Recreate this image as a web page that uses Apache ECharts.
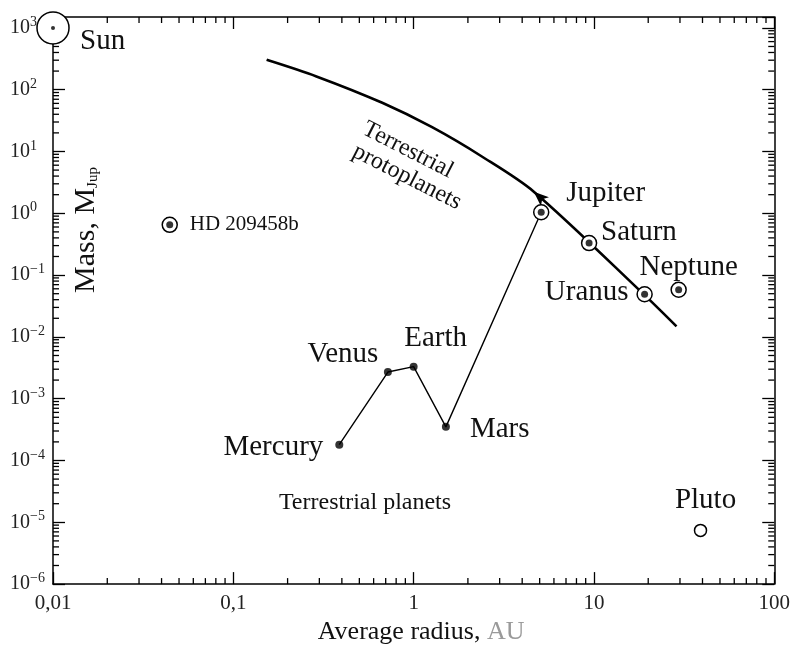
<!DOCTYPE html>
<html><head><meta charset="utf-8">
<script src="https://cdn.jsdelivr.net/npm/echarts@6/dist/echarts.min.js"></script>
<style>html,body{margin:0;padding:0;background:#fff}#c{width:793px;height:650px}</style>
</head><body><div id="c"></div>
<script>
// ---------- data ----------
const xTickLabels = ['0,01', '0,1', '1', '10', '100'];
const xRange = [0.01, 100];
const yRange = [1e-6, 1500];

const sunName = 'Sun';
const sunRadius = [0.01];
const sunMass = [1000];

const giantNames = ['HD 209458b', 'Jupiter', 'Saturn', 'Uranus', 'Neptune'];
const giantRadius = [0.0444, 5.1, 9.4, 19.1, 29.5];
const giantMass = [0.65, 1.04, 0.33, 0.049, 0.058];

const rockyNames = ['Mercury', 'Venus', 'Earth', 'Mars'];
const rockyRadius = [0.387, 0.72, 1.0, 1.51];
const rockyMass = [1.8e-4, 2.7e-3, 3.3e-3, 3.5e-4];

const dwarfNames = ['Pluto'];
const dwarfRadius = [39];
const dwarfMass = [7.4e-6];

const protoRadius = [0.153, 0.289, 0.670, 1.266, 2.39, 4.64, 18.85, 28.7];
const protoMass = [304, 164, 61.4, 24.7, 8.3, 2.24, 0.0492, 0.0148];
const protoArrowIndex = 5;

const minorMultipliers = [2, 3, 4, 5, 6, 7, 8, 9];
const xDecades = [0.01, 0.1, 1, 10];
const yDecades = [1e-6, 1e-5, 1e-4, 1e-3, 1e-2, 1e-1, 1, 10, 100, 1000];

// ---------- styling / layout ----------
const FONT = '"Liberation Serif","DejaVu Serif","Times New Roman",serif';
const INK = '#111';
const labelPlace = {
  'Sun':        {align: 'left',   offset: [27, 14]},
  'HD 209458b': {align: 'left',   offset: [20, 0], fontSize: 21},
  'Mercury':    {align: 'right',  offset: [-16, 3]},
  'Venus':      {align: 'center', offset: [-45, -18]},
  'Earth':      {align: 'center', offset: [22, -28]},
  'Mars':       {align: 'left',   offset: [24, 3]},
  'Jupiter':    {align: 'left',   offset: [25, -19]},
  'Saturn':     {align: 'left',   offset: [12, -11]},
  'Uranus':     {align: 'right',  offset: [-16, -2]},
  'Neptune':    {align: 'center', offset: [10, -22]},
  'Pluto':      {align: 'center', offset: [5, -30]}
};
function lab(name) {
  const p = labelPlace[name];
  return {
    show: true, position: 'inside', formatter: '{b}',
    align: p.align, verticalAlign: 'middle', offset: p.offset,
    fontFamily: FONT, fontSize: p.fontSize || 29, color: INK,
    textBorderWidth: 0, textBorderColor: 'transparent', textShadowBlur: 0, opacity: 1
  };
}
function pts(names, xs, ys, withLabel) {
  return xs.map((x, i) => ({
    name: names[i], value: [x, ys[i]],
    label: withLabel ? lab(names[i]) : {show: false}
  }));
}

const xMinor = [];
xDecades.forEach(d => minorMultipliers.forEach(m => { const v = d * m; if (v < xRange[1]) xMinor.push([v, yRange[0]]); }));
const yMinor = [];
yDecades.forEach(d => minorMultipliers.forEach(m => { const v = d * m; if (v < yRange[1]) yMinor.push([xRange[0], v]); }));

const MINOR = 6, MAJOR = 12, TW = 1.3;
const tickStyle = {stroke: '#000', lineWidth: TW};

function axisCommon(show) {
  return {
    type: 'log', logBase: 10,
    axisLine: {show: true, lineStyle: {color: '#000', width: 1.5}},
    axisTick: {show: true, inside: true, length: MAJOR, lineStyle: {color: '#000', width: TW}},
    splitLine: {show: false}, minorTick: {show: false},
    axisLabel: {show: show}
  };
}

const option = {
  animation: false,
  backgroundColor: '#fff',
  grid: {left: 53, right: 17, top: 17, bottom: 52, containLabel: false},
  xAxis: [
    Object.assign(axisCommon(true), {
      position: 'bottom', min: xRange[0], max: xRange[1],
      axisLabel: {
        show: true, margin: 9, fontFamily: FONT, fontSize: 21, color: '#222',
        formatter: v => xTickLabels[Math.round(Math.log10(v)) + 2]
      },
      name: '{a|Average radius, }{g|AU}', nameLocation: 'middle', nameGap: 20,
      nameTextStyle: {padding: [3, 0, 0, 15], rich: {
        a: {fontFamily: FONT, fontSize: 26, color: INK},
        g: {fontFamily: FONT, fontSize: 26, color: '#9a9a9a'}
      }}
    }),
    Object.assign(axisCommon(false), {position: 'top', min: xRange[0], max: xRange[1]})
  ],
  yAxis: [
    Object.assign(axisCommon(true), {
      position: 'left', min: yRange[0], max: yRange[1],
      axisLabel: {
        show: true, margin: 43, align: 'left', showMaxLabel: false,
        formatter: v => {
          const e = Math.round(Math.log10(v));
          return '{b|10}{s|' + (e < 0 ? '\u2212' + (-e) : e) + '}';
        },
        rich: {
          b: {fontFamily: FONT, fontSize: 20, color: '#222'},
          s: {fontFamily: FONT, fontSize: 14, color: '#222', padding: [0, 0, 11, 0]}
        }
      }
    }),
    Object.assign(axisCommon(false), {position: 'right', min: yRange[0], max: yRange[1]})
  ],
  graphic: [
    {type: 'text', x: 86, y: 230, rotation: Math.PI / 2, z: 10,
     style: {text: '{m|Mass, M}{j|Jup}', textAlign: 'center', textVerticalAlign: 'middle',
       rich: {m: {fontFamily: FONT, fontSize: 30, fill: INK},
              j: {fontFamily: FONT, fontSize: 15, fill: INK, padding: [14, 0, 0, 0]}}}},
    {type: 'text', x: 365, y: 503, z: 10,
     style: {text: 'Terrestrial planets', font: '24px ' + FONT, fill: INK, textAlign: 'center', textVerticalAlign: 'middle'}},
    {type: 'text', x: 408, y: 150, rotation: -27 * Math.PI / 180, z: 10,
     style: {text: 'Terrestrial', font: '24px ' + FONT, fill: INK, textAlign: 'center', textVerticalAlign: 'middle'}},
    {type: 'text', x: 407, y: 177, rotation: -27 * Math.PI / 180, z: 10,
     style: {text: 'protoplanets', font: '24px ' + FONT, fill: INK, textAlign: 'center', textVerticalAlign: 'middle'}}
  ],
  series: [
    {type: 'custom', name: 'xMinorTicks', silent: true, clip: false, z: 1, data: xMinor,
     renderItem: (params, api) => {
       const v = api.value(0);
       const p = api.coord([v, yRange[0]]);
       const q = api.coord([v, yRange[1]]);
       return {type: 'group', children: [
         {type: 'line', shape: {x1: p[0], y1: p[1], x2: p[0], y2: p[1] - MINOR}, style: tickStyle},
         {type: 'line', shape: {x1: q[0], y1: q[1], x2: q[0], y2: q[1] + MINOR}, style: tickStyle}
       ]};
     }},
    {type: 'custom', name: 'yMinorTicks', silent: true, clip: false, z: 1, data: yMinor,
     renderItem: (params, api) => {
       const v = api.value(1);
       const p = api.coord([xRange[0], v]);
       const q = api.coord([xRange[1], v]);
       return {type: 'group', children: [
         {type: 'line', shape: {x1: p[0], y1: p[1], x2: p[0] + MINOR, y2: p[1]}, style: tickStyle},
         {type: 'line', shape: {x1: q[0], y1: q[1], x2: q[0] - MINOR, y2: q[1]}, style: tickStyle}
       ]};
     }},
    {type: 'line', name: 'protoplanets', silent: true, smooth: 0.3, z: 3,
     symbol: 'none', showSymbol: true,
     lineStyle: {color: '#000', width: 2.6},
     data: protoRadius.map((x, i) => i === protoArrowIndex
       ? {value: [x, protoMass[i]], symbol: 'arrow', symbolSize: [9, 15], symbolRotate: 48,
          itemStyle: {color: '#000'}}
       : {value: [x, protoMass[i]]})},
    {type: 'line', name: 'terrestrial track', silent: true, z: 3, symbol: 'none',
     lineStyle: {color: '#000', width: 1.4},
     data: rockyRadius.map((x, i) => [x, rockyMass[i]]).concat([[giantRadius[1], giantMass[1]]])},
    {type: 'scatter', name: 'Sun', silent: true, z: 5, symbol: 'circle', symbolSize: 32,
     itemStyle: {color: '#fff', borderColor: '#000', borderWidth: 1.5, opacity: 1},
     data: pts([sunName], sunRadius, sunMass, true)},
    {type: 'scatter', name: 'Sun core', silent: true, z: 6, symbolSize: 4,
     itemStyle: {color: '#000'}, data: pts([sunName], sunRadius, sunMass, false)},
    {type: 'scatter', name: 'giants', silent: true, z: 5, symbol: 'circle', symbolSize: 15,
     itemStyle: {color: '#fff', borderColor: '#000', borderWidth: 1.5, opacity: 1},
     data: pts(giantNames, giantRadius, giantMass, true)},
    {type: 'scatter', name: 'giant cores', silent: true, z: 6, symbolSize: 7,
     itemStyle: {color: '#000'}, data: pts(giantNames, giantRadius, giantMass, false)},
    {type: 'scatter', name: 'rocky', silent: true, z: 5, symbolSize: 8,
     itemStyle: {color: '#000'}, data: pts(rockyNames, rockyRadius, rockyMass, true)},
    {type: 'scatter', name: 'dwarf', silent: true, z: 5, symbolSize: 12,
     itemStyle: {color: '#fff', borderColor: '#000', borderWidth: 1.5, opacity: 1},
     data: pts(dwarfNames, dwarfRadius, dwarfMass, true)}
  ]
};
const chart = echarts.init(document.getElementById('c'));
chart.setOption(option);
</script>
</body></html>
